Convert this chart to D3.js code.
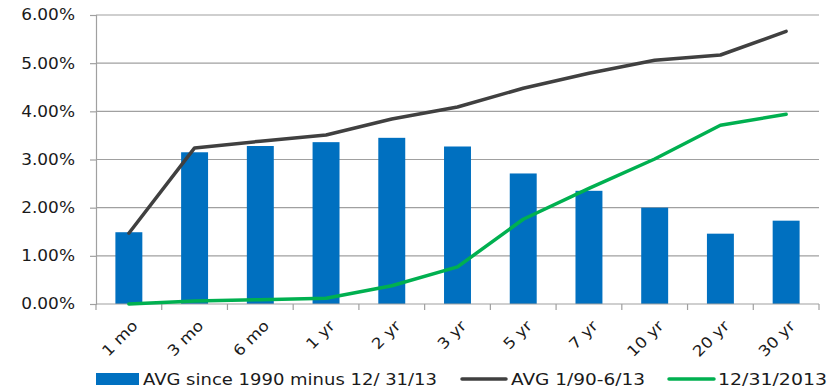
<!DOCTYPE html>
<html>
<head>
<meta charset="utf-8">
<script src="https://cdn.jsdelivr.net/npm/d3@7"></script>
<style>
  html, body { margin: 0; padding: 0; background: #fff; }
  svg { display: block; font-family: "DejaVu Sans", Verdana, sans-serif; }
</style>
</head>
<body>
<svg id="chart" width="839" height="390"></svg>
<script>
// Treasury maturities
const categories = ["1 mo", "3 mo", "6 mo", "1 yr", "2 yr", "3 yr", "5 yr", "7 yr", "10 yr", "20 yr", "30 yr"];
// Bars: average yield since 1990 minus 12/31/13 yield (%)
const spreadValues = [1.49, 3.15, 3.28, 3.36, 3.45, 3.27, 2.71, 2.35, 2.00, 1.46, 1.73];
// Dark line: average yield 1/90-6/13 (%)
const avgValues = [1.47, 3.24, 3.38, 3.51, 3.84, 4.09, 4.48, 4.79, 5.06, 5.17, 5.66];
// Green line: yield curve on 12/31/2013 (%)
const curveValues = [0.00, 0.06, 0.09, 0.12, 0.38, 0.77, 1.76, 2.40, 3.01, 3.71, 3.94];
const yTicks = [0, 1, 2, 3, 4, 5, 6];
const legendLabels = ["AVG since 1990 minus 12/ 31/13", "AVG 1/90-6/13", "12/31/2013"];

const svg = d3.select("#chart");
const m = { left: 96, right: 819, top: 15, bottom: 304 };
const gridColor = "#a0a0a0";
const textColor = "#1a1a1a";
const stretch = 1.13; // wide face for all labels

const x = d3.scaleBand().domain(categories).range([m.left, m.right]).paddingInner(0.59).paddingOuter(0.295);
const xPoint = c => x(c) + x.bandwidth() / 2;
const y = d3.scaleLinear().domain([0, 6]).range([m.bottom, m.top]);

// Horizontal gridlines
svg.append("g").selectAll("line").data(yTicks.slice(1)).join("line")
  .attr("x1", m.left).attr("x2", m.right)
  .attr("y1", d => y(d)).attr("y2", d => y(d))
  .attr("stroke", gridColor).attr("stroke-width", 1.2);

// Bars
svg.append("g").selectAll("rect").data(spreadValues).join("rect")
  .attr("x", (d, i) => x(categories[i]))
  .attr("width", x.bandwidth())
  .attr("y", d => y(d))
  .attr("height", d => y(0) - y(d))
  .attr("fill", "#0070C0");

// Y axis line and ticks
const yAxis = svg.append("g").attr("transform", `translate(${m.left},0)`)
  .call(d3.axisLeft(y).tickValues(yTicks).tickFormat("").tickSizeOuter(0).tickSize(6));
yAxis.select(".domain").attr("stroke", gridColor).attr("stroke-width", 1.2);
yAxis.selectAll(".tick line").attr("stroke", gridColor).attr("stroke-width", 1.2);

// Y tick labels
svg.append("g").selectAll("text").data(yTicks).join("text")
  .attr("transform", d => `translate(75,${y(d)}) scale(${stretch},1)`)
  .attr("text-anchor", "end").attr("dy", "0.36em")
  .attr("font-size", 15).attr("fill", textColor)
  .text(d => d3.format(".2f")(d) + "%");

// X axis with ticks between categories
const boundaries = d3.range(categories.length + 1).map(i => m.left + i * (m.right - m.left) / categories.length);
svg.append("line").attr("x1", m.left).attr("x2", m.right).attr("y1", y(0)).attr("y2", y(0))
  .attr("stroke", gridColor).attr("stroke-width", 1.2);
svg.append("g").selectAll("line").data(boundaries).join("line")
  .attr("x1", d => d).attr("x2", d => d).attr("y1", y(0)).attr("y2", y(0) + 6)
  .attr("stroke", gridColor).attr("stroke-width", 1.2);

svg.append("g").selectAll("text").data(categories).join("text")
  .attr("transform", d => `translate(${xPoint(d) + 6},${y(0) + 19}) rotate(-45) scale(${stretch},1)`)
  .attr("text-anchor", "end")
  .attr("dy", "0.35em")
  .attr("font-size", 15).attr("fill", textColor)
  .text(d => d);

// Lines
const line = d3.line().x((d, i) => xPoint(categories[i])).y(d => y(d));
svg.append("path").datum(avgValues).attr("d", line)
  .attr("fill", "none").attr("stroke", "#404040").attr("stroke-width", 3.5).attr("stroke-linecap", "round").attr("stroke-linejoin", "round");
svg.append("path").datum(curveValues).attr("d", line)
  .attr("fill", "none").attr("stroke", "#00B050").attr("stroke-width", 3.5).attr("stroke-linecap", "round").attr("stroke-linejoin", "round");

// Legend
const lg = svg.append("g").attr("font-size", 16).attr("fill", textColor);
lg.append("rect").attr("x", 96).attr("y", 373).attr("width", 43).attr("height", 12).attr("fill", "#0070C0");
lg.append("text").attr("x", 143).attr("y", 385).attr("textLength", 294).attr("lengthAdjust", "spacingAndGlyphs").text(legendLabels[0]);
lg.append("line").attr("x1", 462).attr("x2", 506).attr("y1", 379).attr("y2", 379)
  .attr("stroke", "#404040").attr("stroke-width", 3.5).attr("stroke-linecap", "round");
lg.append("text").attr("x", 511).attr("y", 385).attr("textLength", 134).attr("lengthAdjust", "spacingAndGlyphs").text(legendLabels[1]);
lg.append("line").attr("x1", 669).attr("x2", 714).attr("y1", 379).attr("y2", 379)
  .attr("stroke", "#00B050").attr("stroke-width", 3.5).attr("stroke-linecap", "round");
lg.append("text").attr("x", 718).attr("y", 385).attr("textLength", 109).attr("lengthAdjust", "spacingAndGlyphs").text(legendLabels[2]);
</script>
</body>
</html>
